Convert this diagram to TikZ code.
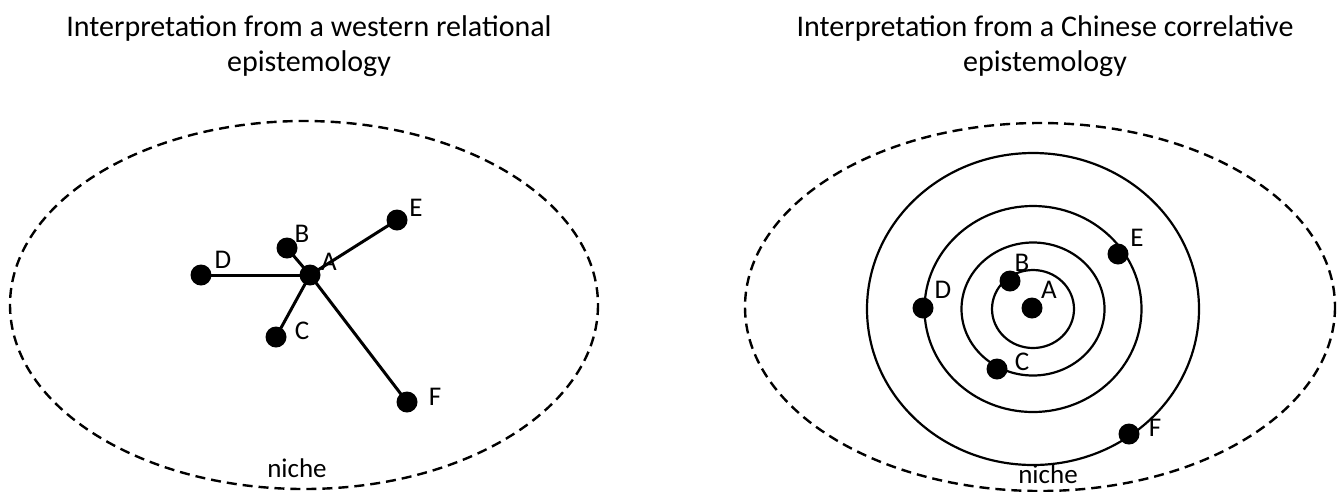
\documentclass[tikz,border=0pt]{standalone}
\usepackage{fontspec}
\setmainfont{Carlito}
\begin{document}
\begin{tikzpicture}[x=1pt,y=-1pt,
  dot/.style={circle,fill=black,inner sep=0pt,minimum size=21pt},
  lbl/.style={inner sep=0pt,font=\fontsize{27}{30}\selectfont},
  title/.style={align=center,inner sep=0pt,font=\fontsize{30}{35}\selectfont},
  niche/.style={dash pattern=on 10pt off 6pt,line width=2.4pt},
  link/.style={line width=3pt},
  ring/.style={line width=2.2pt}]
\useasboundingbox (0,0) rectangle (1337,491);
% titles
\node[title] (t1) at (309,46) {Interpretation from a western relational\\epistemology};
\node[title] (t2) at (1045,46) {Interpretation from a Chinese correlative\\epistemology};
% left niche
\draw[niche] (304,305) ellipse [x radius=294, y radius=184];
\node[lbl] (n1) at (297,468) {niche};
% left graph
\node[dot] (A1) at (310,275) {};
\node[dot] (B1) at (287,248) {};
\node[dot] (C1) at (276,337) {};
\node[dot] (D1) at (201,275) {};
\node[dot] (E1) at (397,220) {};
\node[dot] (F1) at (407,402) {};
\draw[link] (A1.center) -- (B1.center);
\draw[link] (A1.center) -- (C1.center);
\draw[link] (A1.center) -- (D1.center);
\draw[link] (A1.center) -- (E1.center);
\draw[link] (A1.center) -- (F1.center);
\node[lbl] (la1) at (329,262) {A};
\node[lbl] (lb1) at (302,234) {B};
\node[lbl] (lc1) at (302,331) {C};
\node[lbl] (ld1) at (223,260) {D};
\node[lbl] (le1) at (416,208) {E};
\node[lbl] (lf1) at (435,397) {F};
% right niche
\draw[niche] (1040,307) ellipse [x radius=295, y radius=184];
\node[lbl] (n2) at (1048,474) {niche};
% rings
\coordinate (O) at (1033,309);
\draw[ring] (O) ellipse [x radius=41, y radius=39];
\draw[ring] (O) ellipse [x radius=71.5, y radius=66.5];
\draw[ring] (O) ellipse [x radius=108.5, y radius=103];
\draw[ring] (O) ellipse [x radius=166, y radius=156];
\node[dot] (A2) at (1032,308) {};
\node[dot] (B2) at (1010,281) {};
\node[dot] (C2) at (997,369) {};
\node[dot] (D2) at (923,308) {};
\node[dot] (E2) at (1118,254) {};
\node[dot] (F2) at (1129,434) {};
\node[lbl] (la2) at (1049,290) {A};
\node[lbl] (lb2) at (1022,263) {B};
\node[lbl] (lc2) at (1022,362) {C};
\node[lbl] (ld2) at (943,290) {D};
\node[lbl] (le2) at (1137,238) {E};
\node[lbl] (lf2) at (1155,428) {F};
\end{tikzpicture}
\end{document}
